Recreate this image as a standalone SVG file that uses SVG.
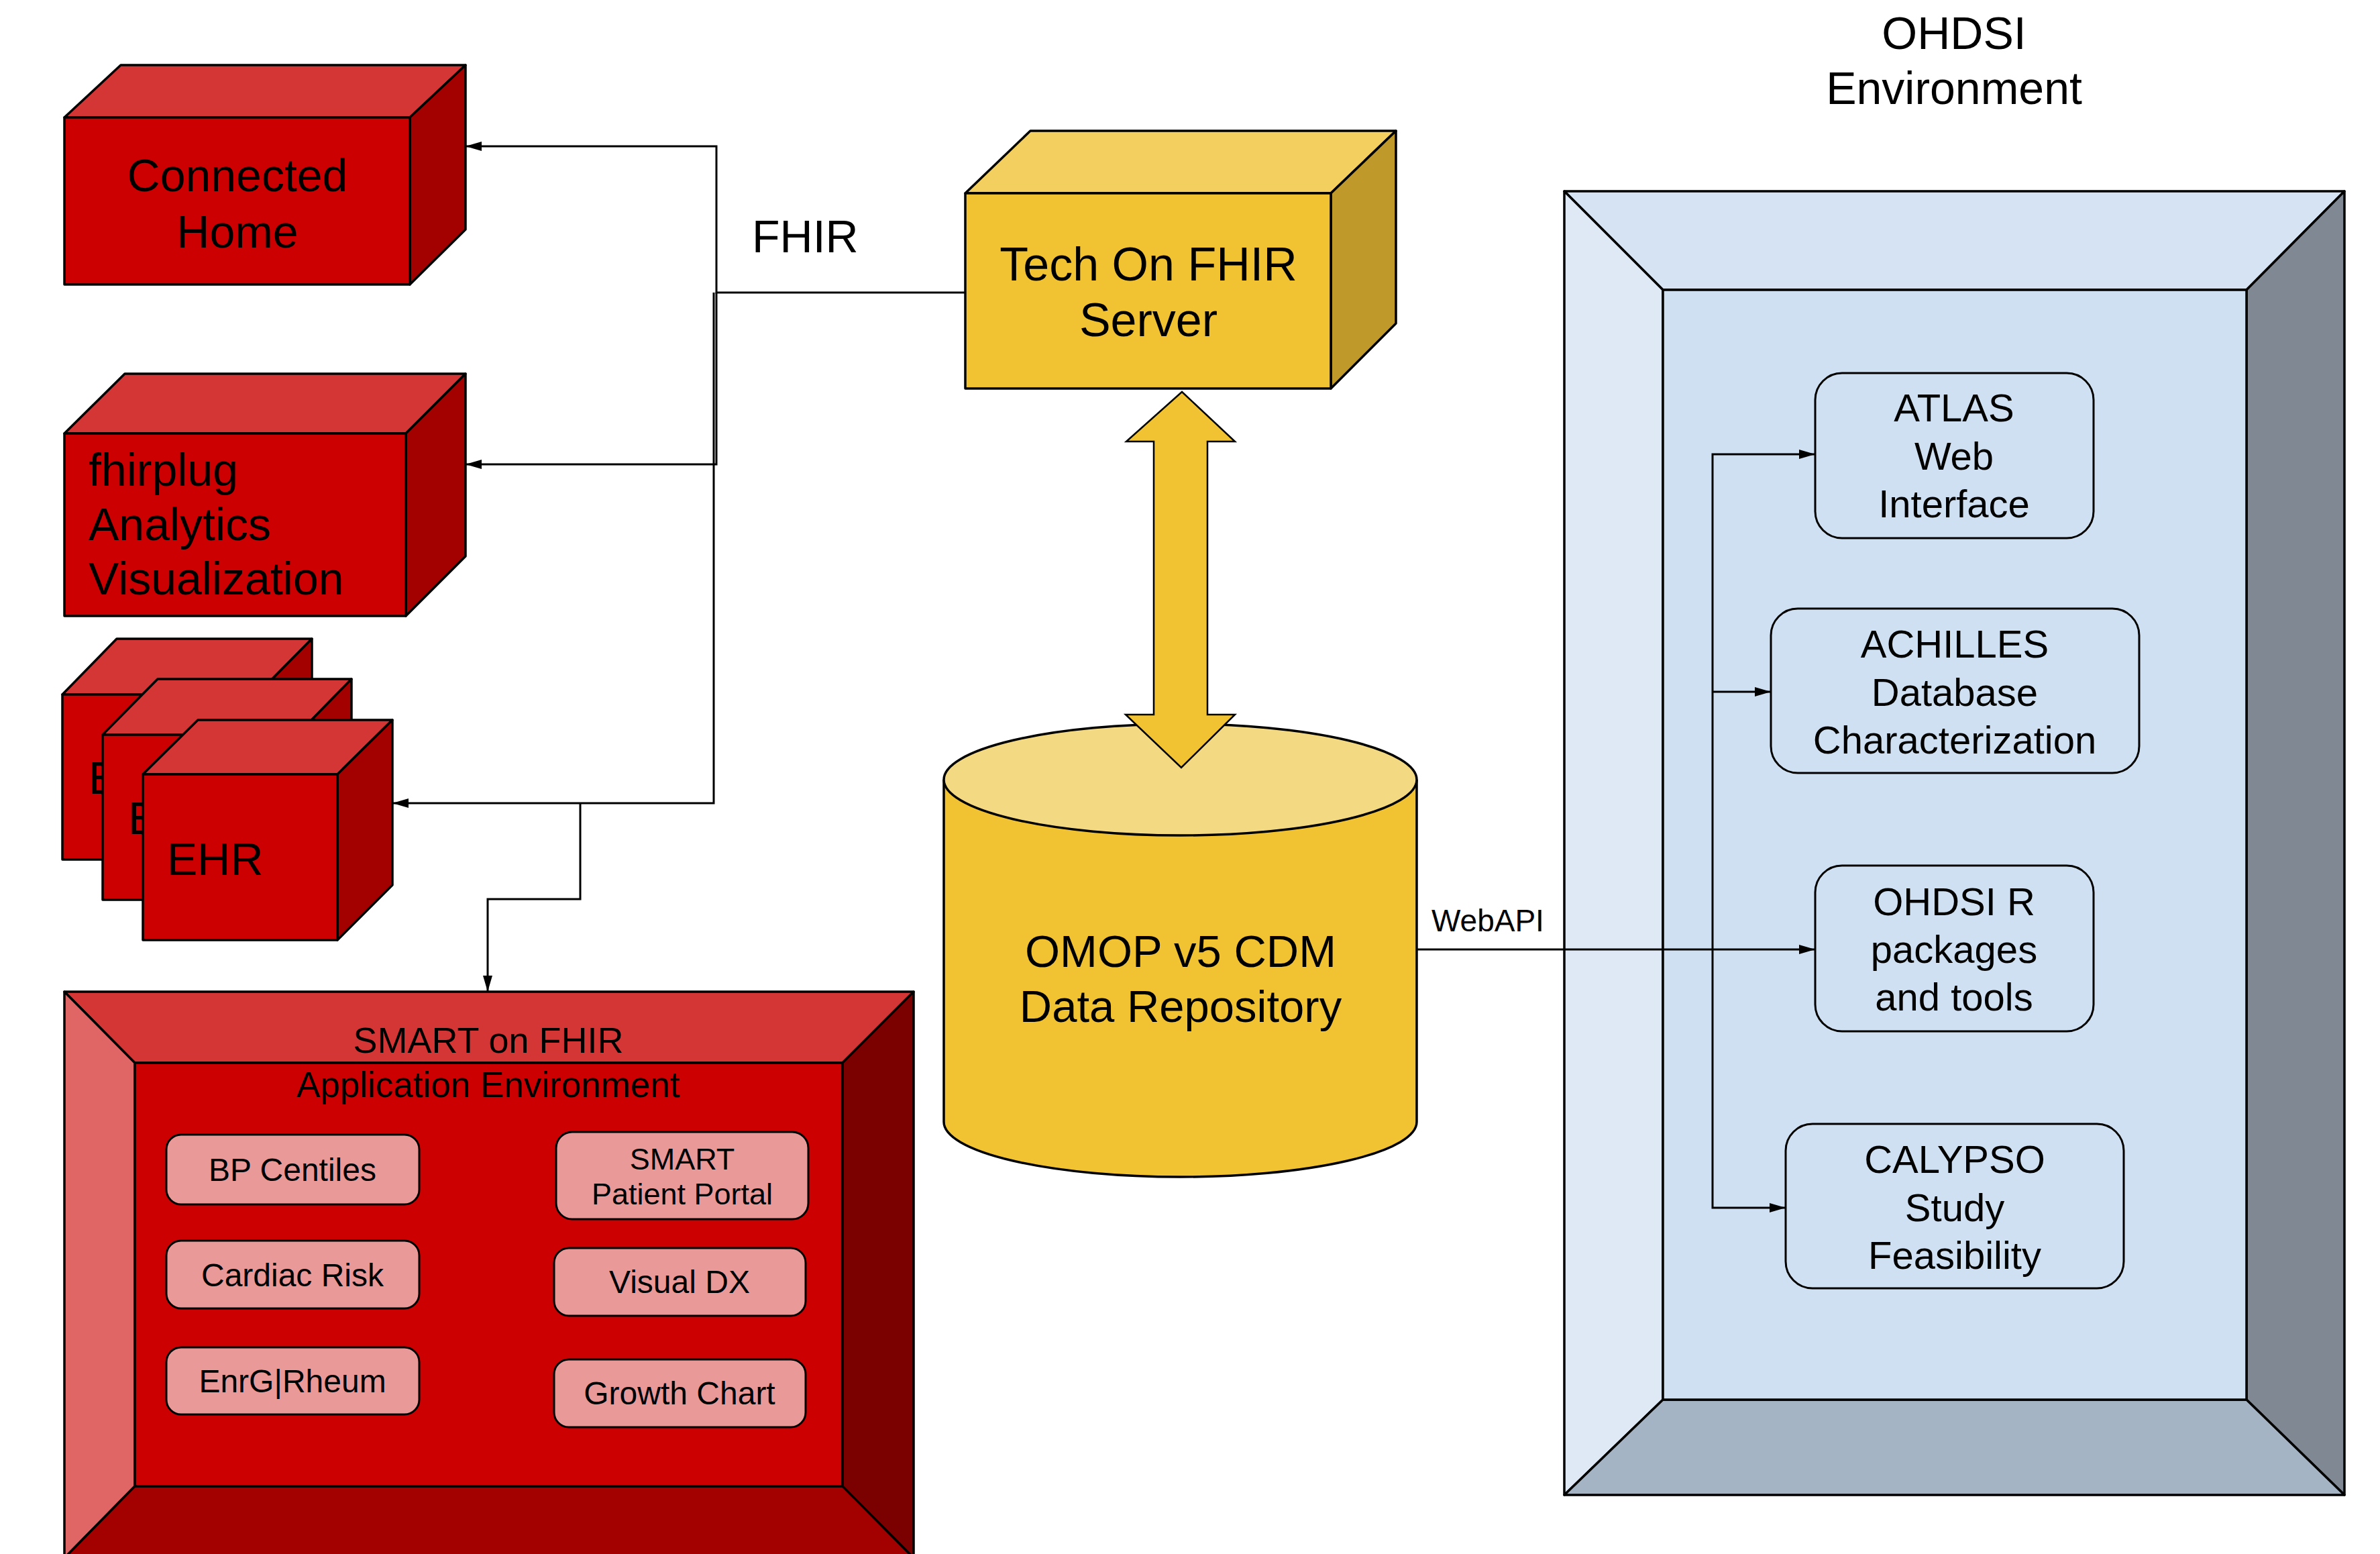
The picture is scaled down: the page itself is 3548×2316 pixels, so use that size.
<svg xmlns="http://www.w3.org/2000/svg" width="3548" height="2316" viewBox="0 0 3548 2316">
<style>
text{font-family:"Liberation Sans",Arial,sans-serif;fill:#000}
.big{font-size:68px}
.mid{font-size:58px}
.s{stroke:#000;stroke-width:3.5;stroke-linejoin:round}
.rf{fill:#cc0000}.rt{fill:#d43535}.rr{fill:#a30000}
.pink{fill:#ea9999;stroke:#000;stroke-width:3}
.blue{fill:#cfe0f2;stroke:#000;stroke-width:3}
.conn{fill:none;stroke:#000;stroke-width:3}
.app{font-size:48px}
</style>
<defs>
<marker id="ah" markerUnits="userSpaceOnUse" markerWidth="24" markerHeight="14" refX="24" refY="7" orient="auto">
<path d="M0,0 L24,7 L0,14 z" fill="#000"/>
</marker>
</defs>
<rect width="3548" height="2316" fill="#fff"/>

<g id="connected-home">
<polygon class="s rt" points="96,175 180,97 694,97 611,175"/>
<polygon class="s rr" points="611,175 694,97 694,342 611,424"/>
<rect class="s rf" x="96" y="175" width="515" height="249"/>
<text class="big" x="354" y="285" text-anchor="middle">Connected</text>
<text class="big" x="354" y="369" text-anchor="middle">Home</text>
</g>

<g id="fhirplug">
<polygon class="s rt" points="96,646 186,557 694,557 605,646"/>
<polygon class="s rr" points="605,646 694,557 694,829 605,918"/>
<rect class="s rf" x="96" y="646" width="509" height="272"/>
<text class="big" x="132" y="724">fhirplug</text>
<text class="big" x="132" y="805">Analytics</text>
<text class="big" x="132" y="886">Visualization</text>
</g>

<g id="ehr">
<g id="ehr-1">
<polygon class="s rt" points="93,1035 174,952 465,952 383,1035"/>
<polygon class="s rr" points="383,1035 465,952 465,1198 383,1281"/>
<rect class="s rf" x="93" y="1035" width="290" height="246"/>
<text class="big" x="132" y="1183">E</text>
</g>
<g id="ehr-2">
<polygon class="s rt" points="153,1095 235,1012 524,1012 443,1095"/>
<polygon class="s rr" points="443,1095 524,1012 524,1258 443,1341"/>
<rect class="s rf" x="153" y="1095" width="290" height="246"/>
<text class="big" x="191" y="1243">E</text>
</g>
<g id="ehr-3">
<polygon class="s rt" points="213,1154 295,1073 585,1073 503,1154"/>
<polygon class="s rr" points="503,1154 585,1073 585,1319 503,1401"/>
<rect class="s rf" x="213" y="1154" width="290" height="247"/>
<text class="big" x="249" y="1304">EHR</text>
</g>
</g>

<g id="smart-env">
<polygon class="s" fill="#d43535" points="96,1478 1362,1478 1256,1584 201,1584"/>
<polygon class="s" fill="#e06666" points="96,1478 201,1584 201,2215 96,2322"/>
<polygon class="s" fill="#7b0000" points="1362,1478 1362,2322 1256,2215 1256,1584"/>
<polygon class="s" fill="#a30000" points="201,2215 1256,2215 1362,2322 96,2322"/>
<rect class="s" fill="#cc0000" x="201" y="1584" width="1055" height="631"/>
<text x="728" y="1569" text-anchor="middle" font-size="54">SMART on FHIR</text>
<text x="728" y="1635" text-anchor="middle" font-size="53">Application Environment</text>
</g>
<g id="bp-centiles"><rect class="pink" x="248" y="1691" width="377" height="104" rx="22"/><text class="app" x="436" y="1760" text-anchor="middle">BP Centiles</text></g>
<g id="cardiac-risk"><rect class="pink" x="248" y="1849" width="377" height="101" rx="22"/><text class="app" x="436" y="1917" text-anchor="middle">Cardiac Risk</text></g>
<g id="enrg-rheum"><rect class="pink" x="248" y="2008" width="377" height="100" rx="22"/><text class="app" x="436" y="2075" text-anchor="middle">EnrG|Rheum</text></g>
<g id="smart-portal"><rect class="pink" x="829" y="1687" width="376" height="130" rx="24"/><text x="1017" y="1743" text-anchor="middle" font-size="45">SMART</text><text x="1017" y="1795" text-anchor="middle" font-size="45">Patient Portal</text></g>
<g id="visual-dx"><rect class="pink" x="826" y="1860" width="375" height="101" rx="22"/><text class="app" x="1013" y="1927" text-anchor="middle">Visual DX</text></g>
<g id="growth-chart"><rect class="pink" x="826" y="2026" width="375" height="101" rx="22"/><text class="app" x="1013" y="2093" text-anchor="middle">Growth Chart</text></g>

<g id="tech-fhir-server">
<polygon class="s" fill="#f2cf5e" points="1439,288 1536,195 2081,195 1984,288"/>
<polygon class="s" fill="#bf9a2b" points="1984,288 2081,195 2081,482 1984,579"/>
<rect class="s" fill="#f1c232" x="1439" y="288" width="545" height="291"/>
<text x="1712" y="418" text-anchor="middle" font-size="70">Tech On FHIR</text>
<text x="1712" y="501" text-anchor="middle" font-size="70">Server</text>
</g>

<g id="omop-cdm">
<path class="s" fill="#f1c232" d="M1407,1162 V1672 A352.5,82 0 0 0 2112,1672 V1162"/>
<ellipse class="s" fill="#f4d983" cx="1759.5" cy="1162" rx="352.5" ry="83"/>
<text x="1760" y="1441" text-anchor="middle" font-size="67">OMOP v5 CDM</text>
<text x="1760" y="1523" text-anchor="middle" font-size="67">Data Repository</text>
</g>

<g id="sync-arrow">
<polygon fill="#f1c232" stroke="#000" stroke-width="2.5" stroke-linejoin="miter" points="1762,584 1841,658 1800,658 1800,1065 1841,1065 1761,1144 1678,1065 1720,1065 1720,658 1679,658"/>
</g>

<g id="ohdsi-env">
<polygon class="s" fill="#d5e3f3" points="2332,285 3495,285 3349,432 2479,432"/>
<polygon class="s" fill="#dfe9f5" points="2332,285 2479,432 2479,2086 2332,2228"/>
<polygon class="s" fill="#7f8893" points="3495,285 3495,2228 3349,2086 3349,432"/>
<polygon class="s" fill="#a5b4c5" points="2479,2086 3349,2086 3495,2228 2332,2228"/>
<rect class="s" fill="#cfe0f2" x="2479" y="432" width="870" height="1654"/>
<text class="big" x="2913" y="73" text-anchor="middle">OHDSI</text>
<text class="big" x="2913" y="155" text-anchor="middle">Environment</text>
</g>
<g id="atlas"><rect class="blue" x="2706" y="556" width="415" height="246" rx="40"/>
<text class="mid" x="2913" y="628" text-anchor="middle">ATLAS</text><text class="mid" x="2913" y="700" text-anchor="middle">Web</text><text class="mid" x="2913" y="771" text-anchor="middle">Interface</text></g>
<g id="achilles"><rect class="blue" x="2640" y="907" width="549" height="245" rx="40"/>
<text class="mid" x="2914" y="980" text-anchor="middle">ACHILLES</text><text class="mid" x="2914" y="1052" text-anchor="middle">Database</text><text class="mid" x="2914" y="1123" text-anchor="middle">Characterization</text></g>
<g id="ohdsi-r"><rect class="blue" x="2706" y="1290" width="415" height="247" rx="40"/>
<text class="mid" x="2913" y="1364" text-anchor="middle">OHDSI R</text><text class="mid" x="2913" y="1435" text-anchor="middle">packages</text><text class="mid" x="2913" y="1506" text-anchor="middle">and tools</text></g>
<g id="calypso"><rect class="blue" x="2662" y="1675" width="504" height="245" rx="40"/>
<text class="mid" x="2914" y="1748" text-anchor="middle">CALYPSO</text><text class="mid" x="2914" y="1820" text-anchor="middle">Study</text><text class="mid" x="2914" y="1891" text-anchor="middle">Feasibility</text></g>

<g id="connectors">
<path class="conn" d="M1439,436 H1068 V218 H694" marker-end="url(#ah)"/>
<path class="conn" d="M1068,436 V692 H694" marker-end="url(#ah)"/>
<path class="conn" d="M1064,436 V1197 H585" marker-end="url(#ah)"/>
<path class="conn" d="M865,1197 V1340 H727 V1478" marker-end="url(#ah)"/>
<path class="conn" d="M2112,1415 H2706" marker-end="url(#ah)"/>
<path class="conn" d="M2553,1415 V677 H2706" marker-end="url(#ah)"/>
<path class="conn" d="M2553,1031 H2640" marker-end="url(#ah)"/>
<path class="conn" d="M2553,1415 V1800 H2662" marker-end="url(#ah)"/>
<text class="big" x="1121" y="376">FHIR</text>
<text x="2134" y="1388" font-size="46">WebAPI</text>
</g>
</svg>
